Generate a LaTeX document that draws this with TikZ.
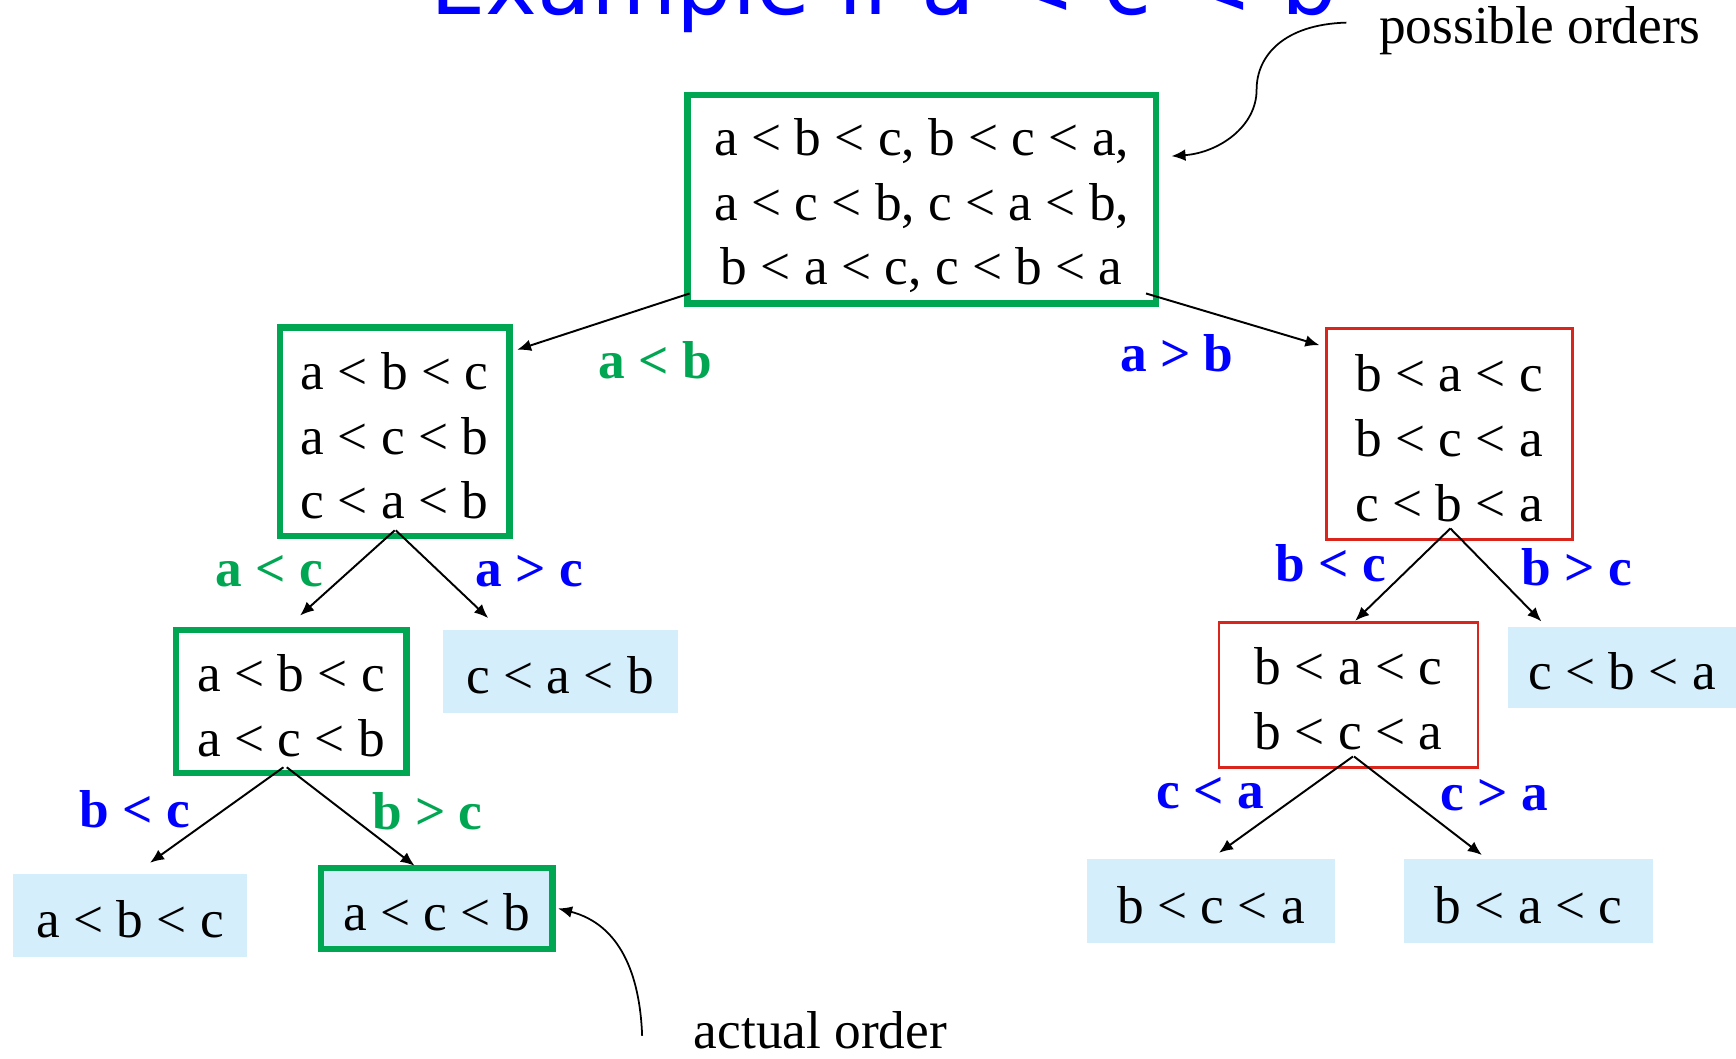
\documentclass[tikz,border=0pt]{standalone}
\usepackage{fontspec}
\setmainfont{Liberation Serif}
\newfontfamily\titlefont{DejaVu Sans}
\usetikzlibrary{arrows.meta, calc}
\definecolor{pathgreen}{RGB}{0, 166, 81}
\definecolor{deadred}{RGB}{218, 37, 29}
\definecolor{leafblue}{RGB}{213, 238, 251}
\definecolor{condblue}{RGB}{0, 0, 255}

\begin{document}
\begin{tikzpicture}[
  x=0.01cm, y=0.01cm,
  txt/.style={font=\fontsize{13.7}{16.6}\selectfont, align=center, inner sep=0pt},
  rows1/.style={text height=11.6pt},
  rows2/.style={text height=28.3pt},
  rows3/.style={text height=44.9pt},
  okbox/.style={txt, draw=pathgreen, line width=1.7pt},
  nobox/.style={txt, draw=deadred, line width=0.7pt},
  leaf/.style={txt, rows1, fill=leafblue},
  cond/.style={font=\fontsize{13.7}{16.6}\selectfont\bfseries, inner sep=0pt},
  arr/.style={-{Latex[length=3.6pt, width=3pt]}, line width=0.5pt},
  note/.style={-{Latex[length=3.6pt, width=3pt]}, line width=0.45pt},
]
  \useasboundingbox (0,0) rectangle (1568,-956);
  \clip (0,0) rectangle (1568,-956);

  % Title
  \node[anchor=base, inner sep=0pt, text=condblue, font=\titlefont\fontsize{22.5}{26}\selectfont] (title) at (798,-13) {Example if a < c < b};

  % Decision boxes
  \node[okbox, text height=46pt, minimum width=4.23cm, minimum height=1.88cm] (root) at (832.5,-180) {a < b < c, b < c < a,\\ a < c < b, c < a < b,\\ b < a < c, c < b < a};
  \node[okbox, rows3, minimum width=2.07cm, minimum height=1.88cm] (l1) at (356.5,-390) {a < b < c\\ a < c < b\\ c < a < b};
  \node[nobox, rows3, minimum width=2.22cm, minimum height=1.90cm] (r1) at (1309,-392) {b < a < c\\ b < c < a\\ c < b < a};
  \node[okbox, rows2, minimum width=2.08cm, minimum height=1.29cm] (l2) at (263,-633.5) {a < b < c\\ a < c < b};
  \node[nobox, rows2, minimum width=2.34cm, minimum height=1.31cm] (r2) at (1218,-627.5) {b < a < c\\ b < c < a};

  % Leaves
  \node[leaf, minimum width=2.12cm, minimum height=0.75cm] (cab) at (506,-606.5) {c < a < b};
  \node[leaf, minimum width=2.06cm, minimum height=0.73cm] (cba) at (1465,-602.5) {c < b < a};
  \node[leaf, minimum width=2.11cm, minimum height=0.75cm] (abc) at (117.5,-826.5) {a < b < c};
  \node[leaf, draw=pathgreen, line width=1.7pt, minimum width=2.09cm, minimum height=0.73cm] (acb) at (394.5,-820.5) {a < c < b};
  \node[leaf, minimum width=2.24cm, minimum height=0.76cm] (bca) at (1094,-814) {b < c < a};
  \node[leaf, minimum width=2.25cm, minimum height=0.76cm] (bac) at (1380.5,-814) {b < a < c};

  % Comparisons
  \draw[arr] ($(root.south west)+(5,12)$) -- ($(l1.north east)+(4,-23)$);
  \draw[arr] ($(root.south east)+(-12,12)$) -- ($(r1.north west)+(-5,-16)$);
  \draw[arr] ($(l1.south)+(0,8)$) -- ($(l2.north)+(8,10)$);
  \draw[arr] ($(l1.south)+(1,8)$) -- ($(cab.north)+(-65,10)$);
  \draw[arr] ($(r1.south)+(1,11)$) -- ($(r2.north)+(6,0)$);
  \draw[arr] ($(r1.south)+(1,11)$) -- ($(cba.north west)+(31,4)$);
  \draw[arr] ($(l2.south)+(-7,8)$) -- ($(abc.north)+(18,9)$);
  \draw[arr] ($(l2.south)+(-4,8)$) -- ($(acb.north)+(-20,-1)$);
  \draw[arr] ($(r2.south)+(4,11)$) -- ($(bca.north)+(7,5)$);
  \draw[arr] ($(r2.south)+(5,11)$) -- ($(bac.north)+(-42,3)$);

  % Comparison labels
  \node[cond, text=pathgreen] (altb) at (592,-325) {a < b};
  \node[cond, text=condblue] (agtb) at (1063,-319) {a > b};
  \node[cond, text=pathgreen] (altc) at (243,-516) {a < c};
  \node[cond, text=condblue] (agtc) at (478,-516) {a > c};
  \node[cond, text=condblue] (bltc) at (1202,-509) {b < c};
  \node[cond, text=condblue] (bgtc) at (1424,-512) {b > c};
  \node[cond, text=condblue] (bltc2) at (122,-731) {b < c};
  \node[cond, text=pathgreen] (bgtc2) at (386,-733) {b > c};
  \node[cond, text=condblue] (clta) at (1093,-716) {c < a};
  \node[cond, text=condblue] (cgta) at (1350,-718) {c > a};

  % Notes
  \node[txt, anchor=base west] (possible) at (1245,-39) {possible orders};
  \node[txt, anchor=base west] (actual) at (626,-947) {actual order};
  \draw[note] ($(possible.west)+(-29,7)$) .. controls (1160,-22) and (1135,-50) .. (1135,-81)
    .. controls (1135,-115) and (1100,-138) .. ($(root.east)+(11,39)$);
  \draw[note] ($(actual.west)+(-46,-5)$) .. controls (578,-880) and (560,-835) .. ($(acb.east)+(2,0)$);
\end{tikzpicture}
\end{document}
